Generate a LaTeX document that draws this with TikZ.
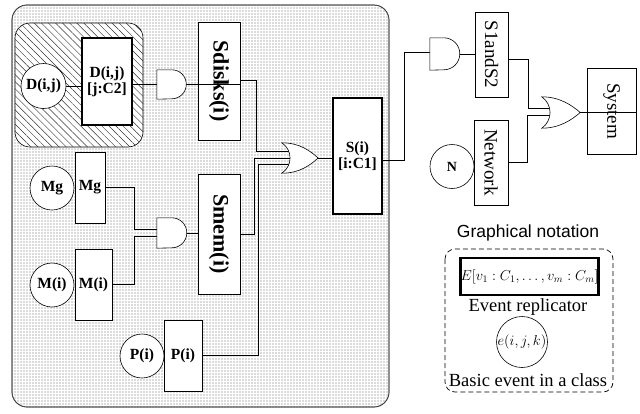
\documentclass[tikz,border=0pt]{standalone}
\usepackage{fontspec}
\setmainfont{Liberation Serif}
\newfontfamily\sansf{Liberation Sans}
\usetikzlibrary{calc,patterns,patterns.meta}
\begin{document}
\begin{tikzpicture}[x=1pt,y=-1pt,
  box/.style={draw, fill=white, inner sep=0pt, line width=0.6pt},
  thickbox/.style={draw, fill=white, inner sep=0pt, line width=2.2pt},
  ev/.style={draw, fill=white, circle, inner sep=0pt, line width=0.6pt},
  gatebox/.style={inner sep=0pt, draw=none},
  gateline/.style={draw, fill=white, line width=0.6pt},
  wire/.style={line width=0.6pt},
  bigb/.style={font=\fontsize{22}{24}\selectfont\bfseries},
  midb/.style={font=\fontsize{15.5}{17}\selectfont\bfseries},
  regl/.style={font=\fontsize{19}{21}\selectfont},
]
\useasboundingbox (0,0) rectangle (640,413);
% outer dotted region
\draw[draw=black!75, line width=0.7pt, rounded corners=15pt, fill=white] (12,5) rectangle (389,407);
\fill[rounded corners=15pt, pattern={Dots[distance=3pt, radius=0.65pt]}, pattern color=black!60] (12,5) rectangle (389,407);
\draw[draw=black!75, line width=0.7pt, rounded corners=15pt] (12,5) rectangle (389,407);
% hatched region
\draw[line width=0.6pt, rounded corners=15pt, fill=white] (15,23) rectangle (143,147);
\fill[rounded corners=15pt, pattern={Lines[angle=-45, distance=5pt, line width=0.45pt]}, pattern color=black!80] (15,23) rectangle (143,147);

% nodes
\node[ev, minimum size=45pt, midb] (dc) at (43.5,86) {D(i,j)};
\node[thickbox, minimum width=50pt, minimum height=87pt, midb, align=center] (db) at (107,81.5) {D(i,j)\\[-1pt][j:C2]};
\node[gatebox, minimum width=30pt, minimum height=29pt] (and1) at (172,84.5) {};
\node[box, minimum width=118pt, minimum height=42pt, rotate=-90, bigb] (sd) at (219,81) {Sdisks(i)};

\node[ev, minimum size=44pt, midb] (mgc) at (52,188) {Mg};
\node[box, minimum width=30pt, minimum height=71pt, midb] (mgb) at (90,187.5) {Mg};
\node[ev, minimum size=44pt, midb] (mic) at (52,285) {M(i)};
\node[box, minimum width=37pt, minimum height=71pt, midb] (mib) at (93.5,284.5) {M(i)};
\node[gatebox, minimum width=30pt, minimum height=30pt] (and2) at (172,233) {};
\node[box, minimum width=120pt, minimum height=42pt, rotate=-90, bigb] (sm) at (219,234) {Smem(i)};

\node[ev, minimum size=44pt, midb] (pc) at (142,356) {P(i)};
\node[box, minimum width=38pt, minimum height=71pt, midb] (pb) at (183,355.5) {P(i)};

\node[gatebox, minimum width=36pt, minimum height=30pt] (or1) at (300,158) {};
\node[thickbox, minimum width=49pt, minimum height=116pt, midb, align=center] (si) at (357.5,156) {S(i)\\[-1pt][i:C1]};

\node[gatebox, minimum width=30pt, minimum height=32pt] (and3) at (445,54) {};
\node[box, minimum width=85pt, minimum height=33pt, rotate=-90, regl] (s12) at (491.5,54.5) {S1andS2};
\node[box, minimum width=85pt, minimum height=34pt, rotate=-90, regl] (net) at (491,162.5) {Network};
\node[ev, minimum size=44pt, font=\fontsize{14}{16}\selectfont\bfseries] (nc) at (452,166.5) {N};
\node[gatebox, minimum width=38pt, minimum height=31pt] (or2) at (561,112.5) {};
\node[box, minimum width=86pt, minimum height=49pt, rotate=-90, regl] (sys) at (611.5,111) {System};

% wires
\draw[wire] (dc.east) -- (dc.east -| db.west);
\draw[wire] (db.east |- and1.center) -- (and1.center);
\draw[wire] (and1.center) -- (and1.center -| sd.north);
\draw[wire] (sd.north |- 0,80) -- (256,80) |- ($(or1.center)+(0pt,6.5pt)$);
\draw[wire] (sm.north) -- (254,234) |- (or1.center);
\draw[wire] (pb.east) -- (258,355.5) |- ($(or1.center)+(0pt,-6.5pt)$);
\draw[wire] (or1.center) -- (or1.center -| si.west);
\draw[wire] (mgb.east) -- (134,187.5) |- ($(and2.center)+(0pt,3.5pt)$);
\draw[wire] (mib.east) -- (134,284.5) |- ($(and2.center)+(0pt,-3.5pt)$);
\draw[wire] (and2.center) -- (and2.center -| sm.south);
\draw[wire] (si.east |- 0,160) -- (404,160) |- ($(and3.center)+(0pt,2pt)$);
\draw[wire] (and3.center) -- (and3.center -| s12.south);
\draw[wire] (s12.north |- 0,59) -- (528,59) |- ($(or2.center)+(0pt,4pt)$);
\draw[wire] (net.north |- 0,162) -- (527,162) |- ($(or2.center)+(0pt,-3pt)$);
\draw[wire] (or2.center) -- (or2.center -| sys.north);

% gate outlines
\draw[gateline] (and1.north west) -- ++(15pt,0pt) arc[start angle=90, end angle=-90, radius=14.5pt] -- (and1.south west) -- cycle;
\draw[gateline] (and2.north west) -- ++(15pt,0pt) arc[start angle=90, end angle=-90, radius=15pt] -- (and2.south west) -- cycle;
\draw[gateline] (and3.north west) -- ++(14pt,0pt) arc[start angle=90, end angle=-90, radius=16pt] -- (and3.south west) -- cycle;
\foreach \g in {or1,or2}{
\draw[gateline] (\g.north west) .. controls ($(\g.north west)+(18pt,0pt)$) and ($(\g.east)+(-8pt,7pt)$) .. (\g.east)
  .. controls ($(\g.east)+(-8pt,-7pt)$) and ($(\g.south west)+(18pt,0pt)$) .. (\g.south west)
  .. controls ($(\g.west)+(11pt,-8pt)$) and ($(\g.west)+(11pt,8pt)$) .. (\g.north west) -- cycle;
}

% legend
\node[font=\sansf\fontsize{17.5}{19}\selectfont] (lt) at (528,233) {Graphical notation};
\draw[dashed, line width=0.7pt, dash pattern=on 5pt off 3pt, rounded corners=10pt] (445,249) rectangle (613,392);
\node[thickbox, minimum width=135pt, minimum height=37pt, font=\fontsize{14.5}{16}\selectfont] (rep) at (529.5,276.5) {$E[v_1:C_1,\ldots,v_m:C_m]$};
\node[font=\fontsize{18.5}{20}\selectfont, inner sep=0pt] (rl) at (528,307) {Event replicator};
\node[ev, minimum size=51pt, font=\fontsize{14.5}{16}\selectfont] (bc) at (522,342) {$e(i,j,k)$};
\node[font=\fontsize{18.5}{20}\selectfont, inner sep=0pt] (bl) at (528,380) {Basic event in a class};
\end{tikzpicture}
\end{document}
